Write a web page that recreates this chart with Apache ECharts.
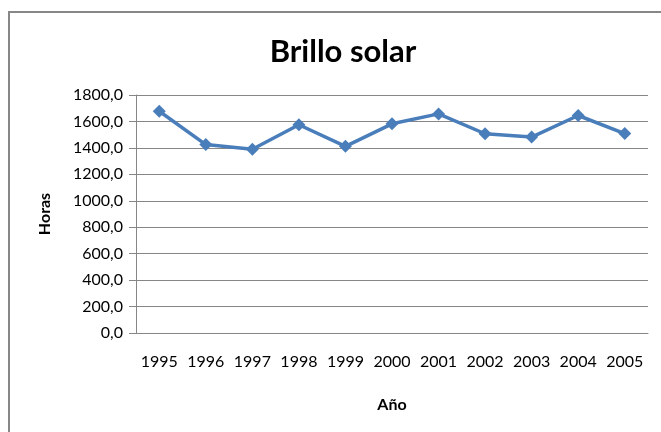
<!DOCTYPE html>
<html><head><meta charset="utf-8">
<script src="https://cdn.jsdelivr.net/npm/echarts@6/dist/echarts.min.js"></script>
<style>html,body{margin:0;padding:0;background:#fff}#c{width:661px;height:432px}</style>
</head><body><div id="c"></div>
<script>
const categories = ['1995','1996','1997','1998','1999','2000','2001','2002','2003','2004','2005'];
const horas = [1677, 1425, 1390, 1575, 1412, 1582, 1657, 1507, 1482, 1645, 1508];
const yTicks = [0, 200, 400, 600, 800, 1000, 1200, 1400, 1600, 1800];
const font = 'Lato, "Open Sans", sans-serif';
const chart = echarts.init(document.getElementById('c'), null, {renderer: 'canvas'});
chart.setOption({
  animation: false,
  backgroundColor: '#fff',
  graphic: [{type: 'rect', shape: {x: 9, y: 12, width: 700, height: 500}, style: {fill: 'none', stroke: '#878787', lineWidth: 2}, z: -1}],
  title: {text: 'Brillo solar', left: 338, top: 31, textAlign: 'center',
    textStyle: {fontFamily: font, fontWeight: 'bold', fontSize: 31, color: '#000'}},
  grid: {left: 136, right: 13, top: 95, bottom: 99, containLabel: false},
  xAxis: {type: 'category', data: categories, boundaryGap: true,
    name: 'Año', nameLocation: 'middle', nameGap: 64,
    nameTextStyle: {fontFamily: font, fontWeight: 'bold', fontSize: 16, color: '#000'},
    axisLine: {show: true, lineStyle: {color: '#868686', width: 1}},
    axisTick: {show: false},
    axisLabel: {fontFamily: font, fontSize: 16, color: '#000', margin: 21, interval: 0}},
  yAxis: {type: 'value', min: yTicks[0], max: yTicks[yTicks.length - 1], interval: 200,
    name: 'Horas', nameLocation: 'middle', nameGap: 83,
    nameTextStyle: {fontFamily: font, fontWeight: 'bold', fontSize: 16, color: '#000'},
    axisLine: {show: true, lineStyle: {color: '#868686', width: 1}},
    axisTick: {show: true, length: 7, lineStyle: {color: '#868686'}},
    splitLine: {show: true, lineStyle: {color: '#868686', width: 1}},
    axisLabel: {fontFamily: font, fontSize: 16, color: '#000', margin: 13,
      formatter: v => v.toFixed(1).replace('.', ',')}},
  series: [{type: 'line', data: horas, symbol: 'diamond', symbolSize: 13,
    lineStyle: {color: '#4A7EBB', width: 3.5},
    itemStyle: {color: '#4A7EBB'}}]
});
</script></body></html>
